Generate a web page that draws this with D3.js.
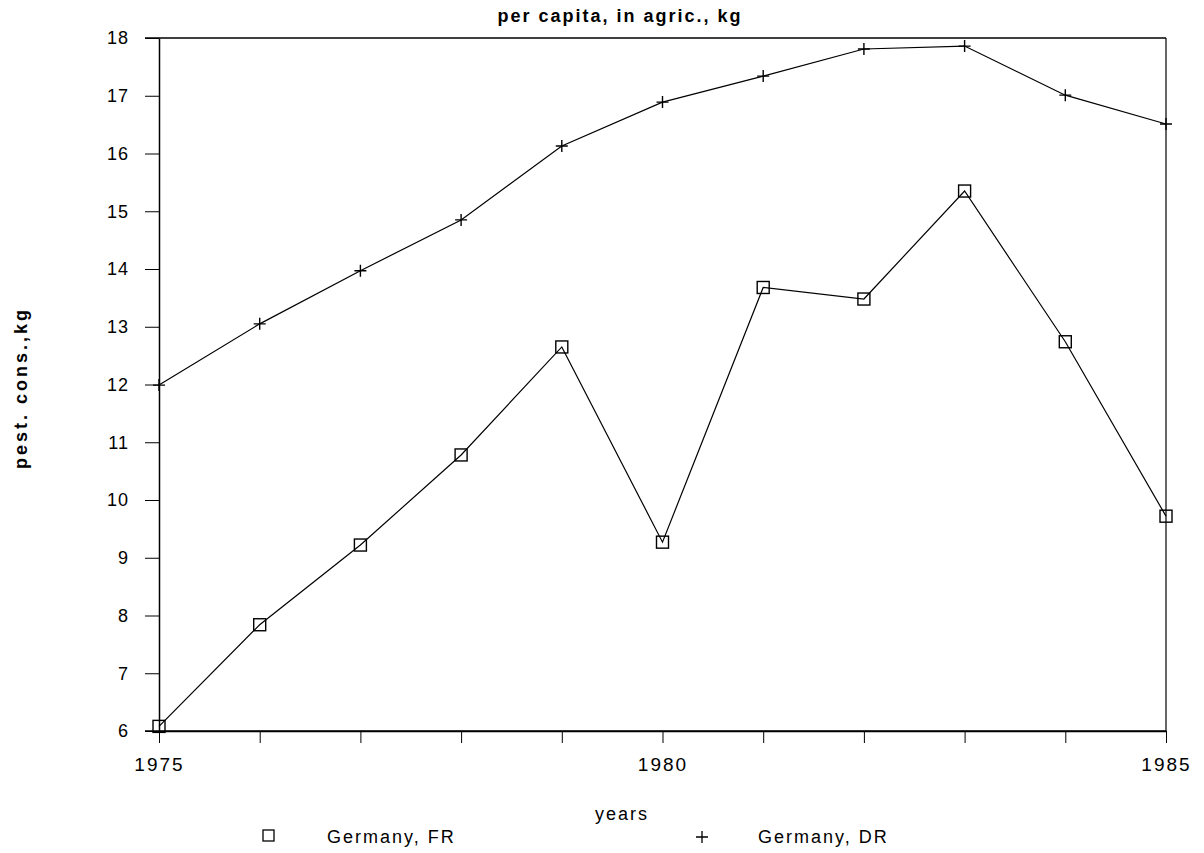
<!DOCTYPE html>
<html>
<head>
<meta charset="utf-8">
<script src="https://cdn.jsdelivr.net/npm/d3@7"></script>
<style>
  body { margin: 0; background: #fff; }
  svg text { font-family: "Liberation Sans", Arial, sans-serif; fill: #000; }
</style>
</head>
<body>
<div id="chart"></div>
<script>
// data
const years = [1975, 1976, 1977, 1978, 1979, 1980, 1981, 1982, 1983, 1984, 1985];
const germanyFR = [6.08, 7.84, 9.22, 10.78, 12.65, 9.27, 13.68, 13.48, 15.35, 12.74, 9.72];
const germanyDR = [11.99, 13.05, 13.97, 14.85, 16.13, 16.89, 17.34, 17.81, 17.86, 17.01, 16.51];
const xLabelYears = [1975, 1980, 1985];
const yTicks = [6, 7, 8, 9, 10, 11, 12, 13, 14, 15, 16, 17, 18];

const width = 1204, height = 853;
const plotLeft = 159, plotRight = 1166, plotTop = 38, plotBottom = 731;

const svg = d3.select("#chart")
    .append("svg")
    .attr("width", width)
    .attr("height", height);

const x = d3.scaleLinear().domain([1975, 1985]).range([plotLeft, plotRight]);
const y = d3.scaleLinear().domain([6, 18]).range([plotBottom, plotTop]);

// y axis, ticks pointing out to the left
const yAxis = svg.append("g")
    .attr("transform", `translate(${plotLeft},0)`)
    .call(d3.axisLeft(y).tickValues(yTicks).tickSize(14).tickSizeOuter(0).tickPadding(16));
yAxis.selectAll(".tick text")
    .style("font-size", "18px")
    .style("letter-spacing", "1px");

// x axis, a tick every year but only three labels
const xAxis = svg.append("g")
    .attr("transform", `translate(0,${plotBottom})`)
    .call(d3.axisBottom(x).tickValues(years).tickSize(12).tickSizeOuter(0)
        .tickFormat(d => xLabelYears.includes(d) ? d : ""));
xAxis.selectAll(".tick text")
    .attr("y", 27)
    .style("font-size", "19px")
    .style("letter-spacing", "2px");
// bottom line runs out under the left ticks
svg.append("line")
    .attr("x1", plotLeft - 14).attr("x2", plotRight)
    .attr("y1", plotBottom).attr("y2", plotBottom)
    .attr("stroke", "#000").attr("stroke-width", 1.5);

svg.selectAll(".domain").attr("stroke-width", 1.5);

// top and right frame
svg.append("line")
    .attr("x1", plotLeft - 14).attr("x2", plotRight)
    .attr("y1", plotTop).attr("y2", plotTop)
    .attr("stroke", "#000").attr("stroke-width", 1.6);
svg.append("line")
    .attr("x1", plotRight).attr("x2", plotRight)
    .attr("y1", plotTop).attr("y2", plotBottom)
    .attr("stroke", "#000").attr("stroke-width", 1.2);

// lines
const line = d3.line()
    .x((d, i) => x(years[i]))
    .y(d => y(d));

svg.append("path")
    .datum(germanyFR)
    .attr("d", line)
    .attr("fill", "none")
    .attr("stroke", "#000")
    .attr("stroke-width", 1.2);

svg.append("path")
    .datum(germanyDR)
    .attr("d", line)
    .attr("fill", "none")
    .attr("stroke", "#000")
    .attr("stroke-width", 1.2);

// square markers
svg.selectAll(".sq")
    .data(germanyFR)
    .enter().append("rect")
    .attr("class", "sq")
    .attr("x", (d, i) => x(years[i]) - 6)
    .attr("y", d => y(d) - 6)
    .attr("width", 12)
    .attr("height", 12)
    .attr("fill", "none")
    .attr("stroke", "#000")
    .attr("stroke-width", 1.4);

// plus markers
svg.selectAll(".pl")
    .data(germanyDR)
    .enter().append("path")
    .attr("class", "pl")
    .attr("d", (d, i) => `M${x(years[i]) - 6},${y(d)}h12M${x(years[i])},${y(d) - 6}v12`)
    .attr("stroke", "#000")
    .attr("stroke-width", 1.4);

// title and axis labels
svg.append("text")
    .attr("x", 620)
    .attr("y", 22)
    .attr("text-anchor", "middle")
    .style("font-size", "18px")
    .style("font-weight", "bold")
    .style("letter-spacing", "2px")
    .text("per capita, in agric., kg");

svg.append("text")
    .attr("x", 622)
    .attr("y", 820)
    .attr("text-anchor", "middle")
    .style("font-size", "18px")
    .style("letter-spacing", "2px")
    .text("years");

svg.append("text")
    .attr("transform", "translate(27,388) rotate(-90)")
    .attr("text-anchor", "middle")
    .style("font-size", "18px")
    .style("font-weight", "bold")
    .style("letter-spacing", "3px")
    .text("pest. cons.,kg");

// legend
svg.append("rect")
    .attr("x", 263).attr("y", 830)
    .attr("width", 11).attr("height", 11)
    .attr("fill", "none").attr("stroke", "#000").attr("stroke-width", 1.3);
svg.append("text")
    .attr("x", 327).attr("y", 843)
    .style("font-size", "18px")
    .style("letter-spacing", "2px")
    .text("Germany, FR");

svg.append("path")
    .attr("d", "M696,837h12M702,831v12")
    .attr("stroke", "#000").attr("stroke-width", 1.3);
svg.append("text")
    .attr("x", 758).attr("y", 843)
    .style("font-size", "18px")
    .style("letter-spacing", "2px")
    .text("Germany, DR");
</script>
</body>
</html>
